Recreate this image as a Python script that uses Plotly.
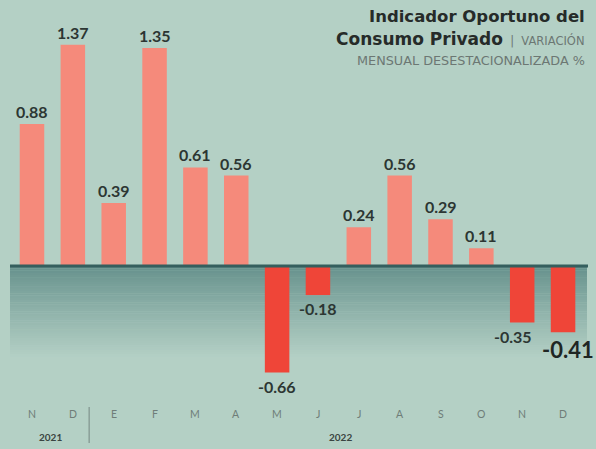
import plotly.graph_objects as go

months = ["N", "D", "E", "F", "M", "A", "M", "J", "J", "A", "S", "O", "N", "D"]
values = [0.88, 1.37, 0.39, 1.35, 0.61, 0.56, -0.66, -0.18, 0.24, 0.56, 0.29, 0.11, -0.35, -0.41]
years = ["2021", "2022"]
year_centers = [0.45, 7.55]  # in category units

W, H = 596, 449
BG = "#b4d0c5"
POS = "#f58a7b"
NEG = "#ef4538"
TXT = "#2c3633"

x = list(range(len(values)))
colors = [POS if v >= 0 else NEG for v in values]

fig = go.Figure()
fig.add_trace(go.Bar(x=x, y=values, marker=dict(color=colors, line=dict(width=0)),
                     width=0.6, hoverinfo="skip"))

# axis mapping: zero line at pixel 266, ~161 px per unit
PPU = 161.5
y_top = 266 / PPU
y_bot = -(H - 266) / PPU
x0 = -32 / 40.85
x1 = (W - 32) / 40.85

def py(px):
    return 1 - px / H

shapes = []
# gradient band below zero
top_rgb = (102, 145, 140)
bg_rgb = (180, 208, 197)
n = 40
depth = 0.56
for k in range(n):
    t = k / n
    c = tuple(int(round(top_rgb[j] + (bg_rgb[j] - top_rgb[j]) * (t ** 0.9))) for j in range(3))
    shapes.append(dict(type="rect", xref="paper", yref="y", x0=10 / W, x1=587 / W,
                       y0=-depth * t, y1=-depth * (t + 1 / n) - 0.002,
                       fillcolor="rgb(%d,%d,%d)" % c, line=dict(width=0), layer="below"))
# zero line
shapes.append(dict(type="line", xref="paper", yref="y", x0=10 / W, x1=588 / W, y0=0, y1=0,
                   line=dict(color="#355f5e", width=3), layer="above"))
# year separator
shapes.append(dict(type="line", xref="x", yref="paper", x0=1.4, x1=1.4, y0=py(443), y1=py(407),
                   line=dict(color="#8a9f98", width=1.5)))

ann = []
for i, v in enumerate(values):
    label = ("%.2f" % v)
    if v >= 0:
        ann.append(dict(x=i, y=v, text=label, showarrow=False, yanchor="bottom", yshift=1,
                        font=dict(family="Lato", size=16, color=TXT, weight="bold")))
    else:
        big = (i == len(values) - 1)
        xs = 0
        if i == len(values) - 2:
            xs = -9
        if big:
            xs = 5
        ann.append(dict(x=i, y=v, text=label, showarrow=False, yanchor="top",
                        yshift=-2, xshift=xs,
                        font=dict(family="Lato", size=22 if big else 16,
                                  color="#1f2624" if big else TXT, weight="bold")))
# month letters
for i, m in enumerate(months):
    ann.append(dict(x=i, y=py(414), yref="paper", yanchor="middle", text=m, showarrow=False,
                    font=dict(family="Lato", size=10.5, color="#6f7d78")))
for yx, yt in zip(year_centers, years):
    ann.append(dict(x=yx, y=py(437), yref="paper", yanchor="middle", text=yt, showarrow=False,
                    font=dict(family="Lato", size=10, color="#3a4441", weight="bold")))

# title block
ann.append(dict(xref="paper", yref="paper", x=587 / W, y=py(17), xanchor="right", yanchor="middle",
                text="Indicador Oportuno del", showarrow=False,
                font=dict(family="DejaVu Sans", size=16.5, color="#262b29", weight="bold")))
ann.append(dict(xref="paper", yref="paper", x=587 / W, y=py(39), xanchor="right", yanchor="middle",
                text="<b>Consumo Privado</b><span style='font-size:11.5px;font-weight:normal;color:#6c7773'>  |  VARIACIÓN</span>",
                showarrow=False,
                font=dict(family="DejaVu Sans", size=17, color="#262b29")))
ann.append(dict(xref="paper", yref="paper", x=587 / W, y=py(60), xanchor="right", yanchor="middle",
                text="MENSUAL DESESTACIONALIZADA %", showarrow=False,
                font=dict(family="DejaVu Sans", size=12.8, color="#6c7773")))

fig.update_layout(
    width=W, height=H, margin=dict(l=0, r=0, t=0, b=0),
    paper_bgcolor=BG, plot_bgcolor=BG, showlegend=False,
    xaxis=dict(range=[x0, x1], visible=False, fixedrange=True),
    yaxis=dict(range=[y_bot, y_top], visible=False, fixedrange=True),
    shapes=shapes, annotations=ann, bargap=0.4,
)
fig.write_html("out.html", config={"displayModeBar": False},
               post_script="document.body.style.margin='0';document.body.style.background='%s';" % BG)
